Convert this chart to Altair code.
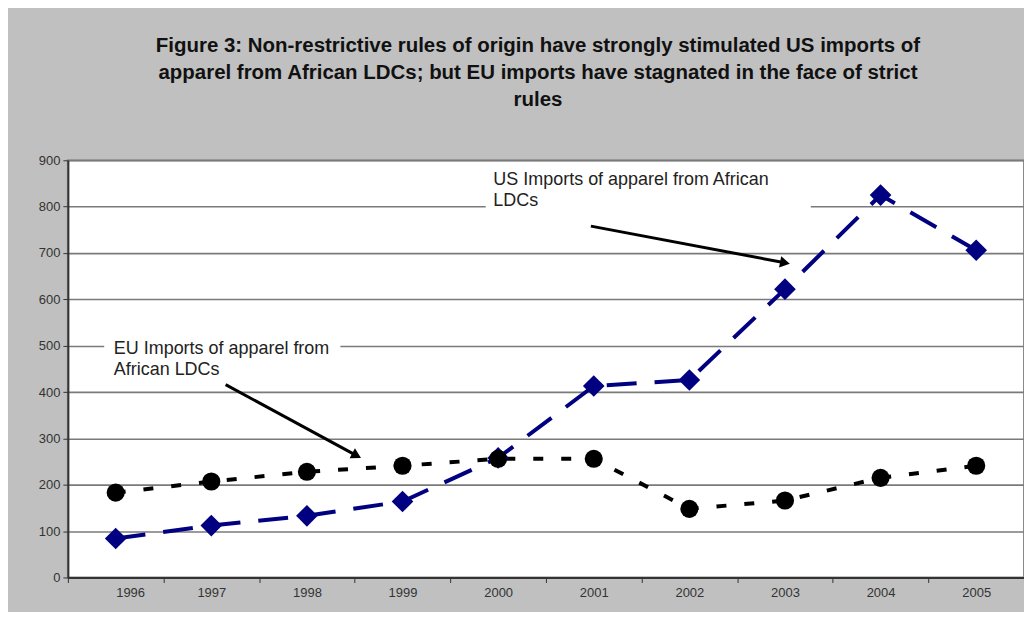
import altair as alt
import pandas as pd

# ---- data ----
years = [1996, 1997, 1998, 1999, 2000, 2001, 2002, 2003, 2004, 2005]
us_imports = [84, 112, 133, 164, 258, 413, 426, 622, 825, 706]
eu_imports = [183, 207, 228, 241, 256, 256, 148, 166, 215, 241]

title_lines = [
    "Figure 3: Non-restrictive rules of origin have strongly stimulated US imports of",
    "apparel from African LDCs; but EU imports have stagnated in the face of strict",
    "rules",
]

# annotation labels (data coordinates)
label_text = ["US Imports of apparel from African", "LDCs",
              "EU Imports of apparel from", "African LDCs"]
label_x = [1999.95, 1999.95, 1995.98, 1995.98]
label_y = [857, 813, 493, 448]

# white boxes behind labels
box_x = [1999.87, 1995.88]
box_x2 = [2003.27, 1998.35]
box_y = [780, 425]
box_y2 = [885, 525]

# arrows
arrow_x = [2000.97, 1997.15]
arrow_y = [758, 416]
arrow_x2 = [2003.0, 1998.52]
arrow_y2 = [679, 263]
arrow_angle = [11, 28]

df = pd.DataFrame({"year": years, "us": us_imports, "eu": eu_imports})
labels = pd.DataFrame({"t": label_text, "x": label_x, "y": label_y})
boxes = pd.DataFrame({"x": box_x, "x2": box_x2, "y": box_y, "y2": box_y2})
arrows = pd.DataFrame({"x": arrow_x, "y": arrow_y, "x2": arrow_x2,
                       "y2": arrow_y2, "a": arrow_angle})

W, H = 958, 418
tick_vals = [y - 0.5 for y in years] + [years[-1] + 0.5]

xscale = alt.Scale(domain=[1995.5, 2005.5], nice=False, zero=False)
yscale = alt.Scale(domain=[0, 900], nice=False)

xaxis = alt.Axis(values=tick_vals, title=None, grid=False,
                 labelExpr="datum.value < 2005 ? format(datum.value + 0.5, 'd') : ''",
                 labelOffset=W / 20, labelColor="#333", labelFontSize=13,
                 labelFont="Liberation Sans", labelPadding=4,
                 domainColor="#333", domainWidth=2, tickColor="#333",
                 tickSize=5, tickWidth=1)
yaxis = alt.Axis(values=list(range(0, 1000, 100)), title=None, grid=True,
                 gridColor="#7a7a7a", gridWidth=1.6, domainColor="#333",
                 domainWidth=2, tickColor="#333", tickSize=5,
                 labelColor="#333", labelFontSize=13,
                 labelFont="Liberation Sans", labelPadding=3)

us_line = alt.Chart(df).mark_line(color="#000080", strokeWidth=4,
                                  strokeDash=[30, 18]).encode(
    x=alt.X("year:Q", scale=xscale, axis=xaxis),
    y=alt.Y("us:Q", scale=yscale, axis=yaxis))
us_pts = alt.Chart(df).mark_point(shape="diamond", filled=True, size=470,
                                  color="#000080", opacity=1).encode(
    x="year:Q", y="us:Q")
eu_line = alt.Chart(df).mark_line(color="black", strokeWidth=4,
                                  strokeDash=[10, 18]).encode(
    x="year:Q", y="eu:Q")
eu_pts = alt.Chart(df).mark_circle(size=330, color="black", opacity=1).encode(
    x="year:Q", y="eu:Q")

box_layer = alt.Chart(boxes).mark_rect(color="white").encode(
    x="x:Q", x2="x2", y="y:Q", y2="y2")
text_layer = alt.Chart(labels).mark_text(align="left", baseline="middle",
                                         fontSize=18, font="Liberation Sans",
                                         color="#222").encode(
    x="x:Q", y="y:Q", text="t:N")
arrow_lines = alt.Chart(arrows).mark_rule(color="black", strokeWidth=3).encode(
    x="x:Q", x2="x2", y="y:Q", y2="y2")
arrow_heads = alt.Chart(arrows).mark_point(shape="triangle-right", filled=True,
                                           size=130, color="black",
                                           opacity=1).encode(
    x="x2:Q", y="y2:Q", angle=alt.Angle("a:Q", scale=None))

chart = alt.layer(
    us_line, eu_line, us_pts, eu_pts,
    box_layer, text_layer, arrow_lines, arrow_heads
).properties(
    width=W, height=H,
    title=alt.TitleParams(text=title_lines, fontSize=20.5, font="Liberation Sans",
                          fontWeight="bold", color="#111", anchor="middle",
                          offset=44, lineHeight=27, dx=-8),
    autosize=alt.AutoSizeParams(type="none"),
    padding={"left": 60, "top": 152, "right": 0, "bottom": 34},
).configure(background="#c0c0c0").configure_view(
    fill="white", stroke="#8a8a8a", strokeWidth=2)

chart.save("out.html", embed_options={"renderer": "svg", "actions": False})
